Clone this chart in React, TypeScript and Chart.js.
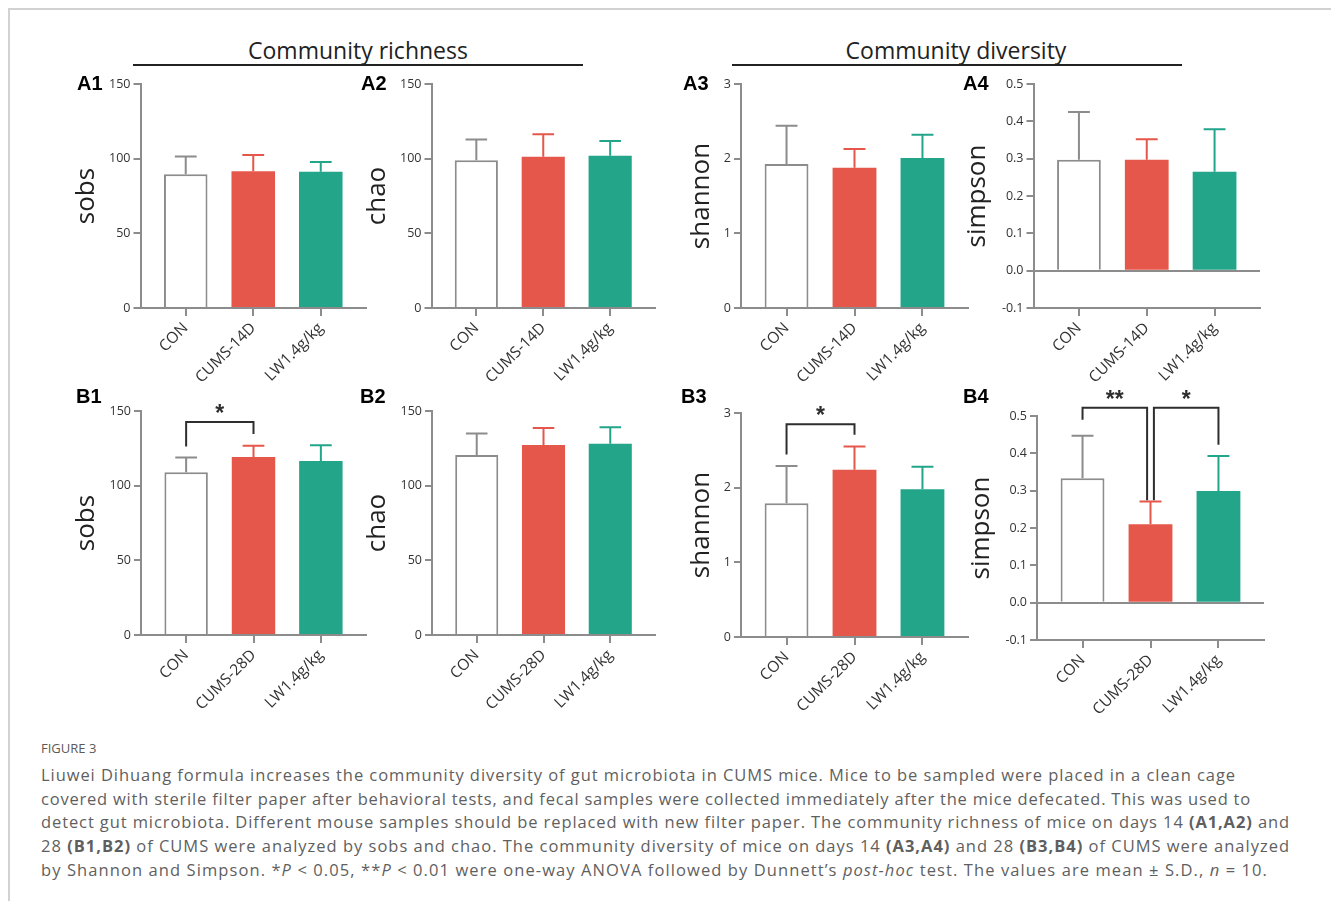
import React, { useEffect, useLayoutEffect, useRef } from 'react';
import { Chart, registerables } from 'chart.js';

Chart.register(...registerables);

// ---------------- data ----------------
const GROUPS_DAY14 = ['CON', 'CUMS-14D', 'LW1.4g/kg'];
const GROUPS_DAY28 = ['CON', 'CUMS-28D', 'LW1.4g/kg'];

const A1_SOBS_MEAN = [89.5, 91.5, 91.3];
const A1_SOBS_SD = [12.0, 11.0, 6.4];
const A2_CHAO_MEAN = [99.0, 101.2, 101.9];
const A2_CHAO_SD = [13.8, 15.1, 10.0];
const A3_SHANNON_MEAN = [1.93, 1.88, 2.01];
const A3_SHANNON_SD = [0.51, 0.25, 0.31];
const A4_SIMPSON_MEAN = [0.297, 0.297, 0.265];
const A4_SIMPSON_SD = [0.128, 0.055, 0.114];

const B1_SOBS_MEAN = [109.0, 119.2, 116.5];
const B1_SOBS_SD = [9.8, 7.6, 10.5];
const B2_CHAO_MEAN = [120.5, 127.2, 128.1];
const B2_CHAO_SD = [14.5, 11.4, 11.0];
const B3_SHANNON_MEAN = [1.79, 2.24, 1.98];
const B3_SHANNON_SD = [0.5, 0.31, 0.3];
const B4_SIMPSON_MEAN = [0.333, 0.21, 0.299];
const B4_SIMPSON_SD = [0.114, 0.061, 0.094];

const COUNT_TICKS = [0, 50, 100, 150];
const SHANNON_TICKS = [0, 1, 2, 3];
const SIMPSON_TICKS = [-0.1, 0, 0.1, 0.2, 0.3, 0.4, 0.5];

// significance brackets (x in group index, y in data units)
const B1_BRACKETS = [{ from: 0, to: 1, y: 142.6, fromEnd: 126.3, toEnd: 134.6, mark: '*' }];
const B3_BRACKETS = [{ from: 0, to: 1, y: 2.85, fromEnd: 2.445, toEnd: 2.71, mark: '*' }];
const B4_BRACKETS = [
  { from: 0, to: 0.95, y: 0.522, fromEnd: 0.49, toEnd: 0.274, mark: '**' },
  { from: 1.05, to: 2, y: 0.522, fromEnd: 0.274, toEnd: 0.423, mark: '*' },
];

// ---------------- styles ----------------
const RED = '#E5574A';
const GREEN = '#23A58A';
const GREY = '#8C8C8C';
const INK = '#2E2E2E';
const BAR_FILL = ['#FFFFFF', RED, GREEN];
const BAR_EDGE = [GREY, RED, GREEN];
const BAR_EDGE_W = [2, 0, 0];
const ERR_COLOR = [GREY, RED, GREEN];
const SANS = "'Open Sans', 'DejaVu Sans', sans-serif";

const PAD_TOP = 42;
const X_AXIS_H = 100;
const TITLE_SIZE = 26;
const TITLE_HALF = (TITLE_SIZE * 1.2) / 2;
const STAR_SIZE = 23;

type Bracket = { from: number; to: number; y: number; fromEnd: number; toEnd: number; mark: string };
type PanelCfg = {
  id: string;
  groups: string[];
  mean: number[];
  sd: number[];
  title: string;
  ticks: number[];
  decimals: number;
  zeroLine: boolean;
  brackets: Bracket[];
  axisX: number;
  right: number;
  top: number;
  bottom: number;
  titleX: number;
  labelX: number;
  labelY: number;
};

const PANELS: PanelCfg[] = [
  { id: 'A1', groups: GROUPS_DAY14, mean: A1_SOBS_MEAN, sd: A1_SOBS_SD, title: 'sobs', ticks: COUNT_TICKS, decimals: 0, zeroLine: false, brackets: [], axisX: 140.5, right: 366, top: 84, bottom: 308, titleX: 87, labelX: 77, labelY: 83 },
  { id: 'A2', groups: GROUPS_DAY14, mean: A2_CHAO_MEAN, sd: A2_CHAO_SD, title: 'chao', ticks: COUNT_TICKS, decimals: 0, zeroLine: false, brackets: [], axisX: 431.5, right: 655, top: 84, bottom: 308, titleX: 378, labelX: 361, labelY: 83 },
  { id: 'A3', groups: GROUPS_DAY14, mean: A3_SHANNON_MEAN, sd: A3_SHANNON_SD, title: 'shannon', ticks: SHANNON_TICKS, decimals: 0, zeroLine: false, brackets: [], axisX: 741, right: 968, top: 84, bottom: 308, titleX: 702, labelX: 683, labelY: 83 },
  { id: 'A4', groups: GROUPS_DAY14, mean: A4_SIMPSON_MEAN, sd: A4_SIMPSON_SD, title: 'simpson', ticks: SIMPSON_TICKS, decimals: 1, zeroLine: true, brackets: [], axisX: 1033.5, right: 1260, top: 84, bottom: 308, titleX: 978, labelX: 963, labelY: 83 },
  { id: 'B1', groups: GROUPS_DAY28, mean: B1_SOBS_MEAN, sd: B1_SOBS_SD, title: 'sobs', ticks: COUNT_TICKS, decimals: 0, zeroLine: false, brackets: B1_BRACKETS, axisX: 141, right: 366, top: 411, bottom: 635, titleX: 87, labelX: 76, labelY: 396 },
  { id: 'B2', groups: GROUPS_DAY28, mean: B2_CHAO_MEAN, sd: B2_CHAO_SD, title: 'chao', ticks: COUNT_TICKS, decimals: 0, zeroLine: false, brackets: [], axisX: 432, right: 655, top: 411, bottom: 635, titleX: 378, labelX: 360, labelY: 396 },
  { id: 'B3', groups: GROUPS_DAY28, mean: B3_SHANNON_MEAN, sd: B3_SHANNON_SD, title: 'shannon', ticks: SHANNON_TICKS, decimals: 0, zeroLine: false, brackets: B3_BRACKETS, axisX: 741, right: 968, top: 413, bottom: 637, titleX: 702, labelX: 681, labelY: 396 },
  { id: 'B4', groups: GROUPS_DAY28, mean: B4_SIMPSON_MEAN, sd: B4_SIMPSON_SD, title: 'simpson', ticks: SIMPSON_TICKS, decimals: 1, zeroLine: true, brackets: B4_BRACKETS, axisX: 1037, right: 1264, top: 416, bottom: 640, titleX: 982, labelX: 963, labelY: 396 },
];

const CAPTION_LINES: React.ReactNode[] = [
  <>Liuwei Dihuang formula increases the community diversity of gut microbiota in CUMS mice. Mice to be sampled were placed in a clean cage</>,
  <>covered with sterile filter paper after behavioral tests, and fecal samples were collected immediately after the mice defecated. This was used to</>,
  <>detect gut microbiota. Different mouse samples should be replaced with new filter paper. The community richness of mice on days 14 <b>(A1,A2)</b> and</>,
  <>28 <b>(B1,B2)</b> of CUMS were analyzed by sobs and chao. The community diversity of mice on days 14 <b>(A3,A4)</b> and 28 <b>(B3,B4)</b> of CUMS were analyzed</>,
  <>by Shannon and Simpson. *<i>P</i> &lt; 0.05, **<i>P</i> &lt; 0.01 were one-way ANOVA followed by Dunnett’s <i>post-hoc</i> test. The values are mean ± S.D., <i>n</i> = 10.</>,
];
const CAPTION_LINE_END = [1236, 1251, 1290, 1290, 1268];
const CAPTION_LEFT = 41;
const CAPTION_FIRST_Y = 775;
const CAPTION_STEP = 23.7;

function Panel({ cfg }: { cfg: PanelCfg }) {
  const ref = useRef<HTMLCanvasElement | null>(null);
  const left = Math.floor(cfg.titleX - TITLE_HALF);
  const top = Math.floor(cfg.top - PAD_TOP);
  const yAxisW = cfg.axisX - left;
  const width = Math.ceil(cfg.right + 12 - left);
  const height = cfg.bottom + X_AXIS_H - top;
  const padRight = width - (cfg.right - left);
  const padTop = cfg.top - top;

  useEffect(() => {
    const canvas = ref.current;
    if (!canvas) return;
    const yMin = cfg.ticks[0];
    const yMax = cfg.ticks[cfg.ticks.length - 1];

    const errorBars = {
      id: 'errorBars',
      afterDatasetsDraw(chart: any) {
        const meta = chart.getDatasetMeta(0);
        const ys = chart.scales.y;
        const ctx = chart.ctx;
        ctx.save();
        meta.data.forEach((bar: any, i: number) => {
          const p = bar.getProps(['x', 'width'], true);
          const yBase = ys.getPixelForValue(cfg.mean[i]);
          const yTop = ys.getPixelForValue(cfg.mean[i] + cfg.sd[i]);
          const half = p.width * 0.25;
          ctx.strokeStyle = ERR_COLOR[i];
          ctx.lineWidth = 2;
          ctx.beginPath();
          ctx.moveTo(p.x, yBase);
          ctx.lineTo(p.x, yTop);
          ctx.moveTo(p.x - half, yTop);
          ctx.lineTo(p.x + half, yTop);
          ctx.stroke();
        });
        ctx.restore();
      },
    };

    const sigBrackets = {
      id: 'sigBrackets',
      afterDraw(chart: any) {
        const xs = chart.scales.x;
        const ys = chart.scales.y;
        const ctx = chart.ctx;
        ctx.save();
        cfg.brackets.forEach((b) => {
          const x1 = xs.getPixelForValue(b.from);
          const x2 = xs.getPixelForValue(b.to);
          const yy = ys.getPixelForValue(b.y);
          ctx.strokeStyle = INK;
          ctx.lineWidth = 2;
          ctx.beginPath();
          ctx.moveTo(x1, ys.getPixelForValue(b.fromEnd));
          ctx.lineTo(x1, yy);
          ctx.lineTo(x2, yy);
          ctx.lineTo(x2, ys.getPixelForValue(b.toEnd));
          ctx.stroke();
          ctx.fillStyle = INK;
          ctx.font = `bold ${STAR_SIZE}px 'Liberation Sans', Arial, sans-serif`;
          ctx.textAlign = 'center';
          ctx.textBaseline = 'alphabetic';
          ctx.fillText(b.mark, (x1 + x2) / 2, yy - 14 + 0.57 * STAR_SIZE);
        });
        ctx.restore();
      },
    };

    const chart = new Chart(canvas, {
      type: 'bar',
      data: {
        datasets: [
          {
            data: cfg.mean.map((m, i) => ({ x: i, y: m })),
            backgroundColor: BAR_FILL,
            borderColor: BAR_EDGE,
            borderWidth: BAR_EDGE_W,
            borderSkipped: 'start',
            barPercentage: 0.645,
            categoryPercentage: 1,
          } as any,
        ],
      },
      options: {
        animation: false,
        responsive: false,
        maintainAspectRatio: false,
        events: [],
        layout: { padding: { top: padTop, right: padRight, left: 0, bottom: 0 } },
        plugins: { legend: { display: false }, tooltip: { enabled: false } },
        scales: {
          x: {
            type: 'linear',
            offset: false,
            min: -0.67,
            max: 2.67,
            afterBuildTicks: (s: any) => {
              s.ticks = cfg.groups.map((_, i) => ({ value: i }));
            },
            afterFit: (s: any) => {
              s.height = X_AXIS_H;
            },
            ticks: {
              autoSkip: false,
              maxRotation: 45,
              minRotation: 45,
              padding: 3,
              color: '#333',
              font: { family: SANS, size: 15.5 },
              callback: (v: any) => cfg.groups[v] ?? '',
            },
            grid: { display: true, offset: false, drawOnChartArea: false, drawTicks: true, tickLength: 8, color: GREY, lineWidth: 2 },
            border: { display: true, color: GREY, width: 2 },
          },
          y: {
            min: yMin,
            max: yMax,
            afterBuildTicks: (s: any) => {
              s.ticks = cfg.ticks.map((v) => ({ value: v }));
            },
            afterFit: (s: any) => {
              s.width = yAxisW;
            },
            ticks: {
              autoSkip: false,
              padding: 3,
              color: '#333',
              font: { family: SANS, size: 12.5 },
              callback: (v: any) => Number(v).toFixed(cfg.decimals),
            },
            grid: {
              display: true,
              drawOnChartArea: cfg.zeroLine,
              drawTicks: true,
              tickLength: 7,
              lineWidth: 2,
              tickColor: GREY,
              color: (c: any) => (cfg.zeroLine && c.tick && Math.abs(c.tick.value) < 1e-9 ? GREY : 'rgba(0,0,0,0)'),
            },
            border: { display: true, color: GREY, width: 2 },
            title: {
              display: true,
              text: cfg.title,
              color: '#222',
              padding: 0,
              font: { family: SANS, size: TITLE_SIZE },
            },
          },
        },
      } as any,
      plugins: [errorBars, sigBrackets],
    });
    return () => chart.destroy();
  }, []);

  return (
    <canvas
      ref={ref}
      width={width}
      height={height}
      style={{ position: 'absolute', left, top, width, height }}
    />
  );
}

function Caption() {
  const refs = useRef<(HTMLDivElement | null)[]>([]);
  useLayoutEffect(() => {
    refs.current.forEach((el, i) => {
      if (!el) return;
      el.style.letterSpacing = '0px';
      const w = el.getBoundingClientRect().width;
      const n = (el.textContent || '').length;
      const target = CAPTION_LINE_END[i] - CAPTION_LEFT;
      if (n > 1) el.style.letterSpacing = `${(target - w) / n}px`;
    });
  }, []);
  return (
    <>
      <div
        style={{
          position: 'absolute',
          left: CAPTION_LEFT,
          top: 740,
          fontFamily: SANS,
          fontSize: 13,
          lineHeight: '16px',
          color: '#5a5a5a',
          whiteSpace: 'nowrap',
        }}
      >
        FIGURE 3
      </div>
      {CAPTION_LINES.map((line, i) => (
        <div
          key={i}
          ref={(el) => {
            refs.current[i] = el;
          }}
          style={{
            position: 'absolute',
            left: CAPTION_LEFT,
            top: CAPTION_FIRST_Y + i * CAPTION_STEP - 11,
            fontFamily: SANS,
            fontSize: 16.5,
            lineHeight: '22px',
            color: '#5f5f5f',
            whiteSpace: 'nowrap',
          }}
        >
          {line}
        </div>
      ))}
    </>
  );
}

function Header({ text, cx, lineLeft, lineRight }: { text: string; cx: number; lineLeft: number; lineRight: number }) {
  return (
    <>
      <div
        style={{
          position: 'absolute',
          left: cx - 200,
          width: 400,
          top: 39,
          textAlign: 'center',
          fontFamily: SANS,
          fontSize: 23,
          lineHeight: '23px',
          color: '#222',
          whiteSpace: 'nowrap',
        }}
      >
        {text}
      </div>
      <div style={{ position: 'absolute', left: lineLeft, top: 64, width: lineRight - lineLeft, height: 2, background: '#222' }} />
    </>
  );
}

export default function App() {
  return (
    <div style={{ position: 'absolute', left: 0, top: 0, width: 1331, height: 901, background: '#fff', overflow: 'hidden' }}>
      <div
        style={{
          position: 'absolute',
          left: 8,
          top: 8,
          width: 1331,
          height: 901,
          borderTop: '2px solid #d2d2d2',
          borderLeft: '2px solid #d2d2d2',
        }}
      />
      <Header text="Community richness" cx={358} lineLeft={133} lineRight={583} />
      <Header text="Community diversity" cx={956} lineLeft={732} lineRight={1182} />
      {PANELS.map((p) => (
        <React.Fragment key={p.id}>
          <Panel cfg={p} />
          <div
            style={{
              position: 'absolute',
              left: p.labelX,
              top: p.labelY - 10,
              fontFamily: "'Liberation Sans', Arial, sans-serif",
              fontWeight: 'bold',
              fontSize: 20,
              lineHeight: '20px',
              color: '#000',
            }}
          >
            {p.id}
          </div>
        </React.Fragment>
      ))}
      <Caption />
    </div>
  );
}
